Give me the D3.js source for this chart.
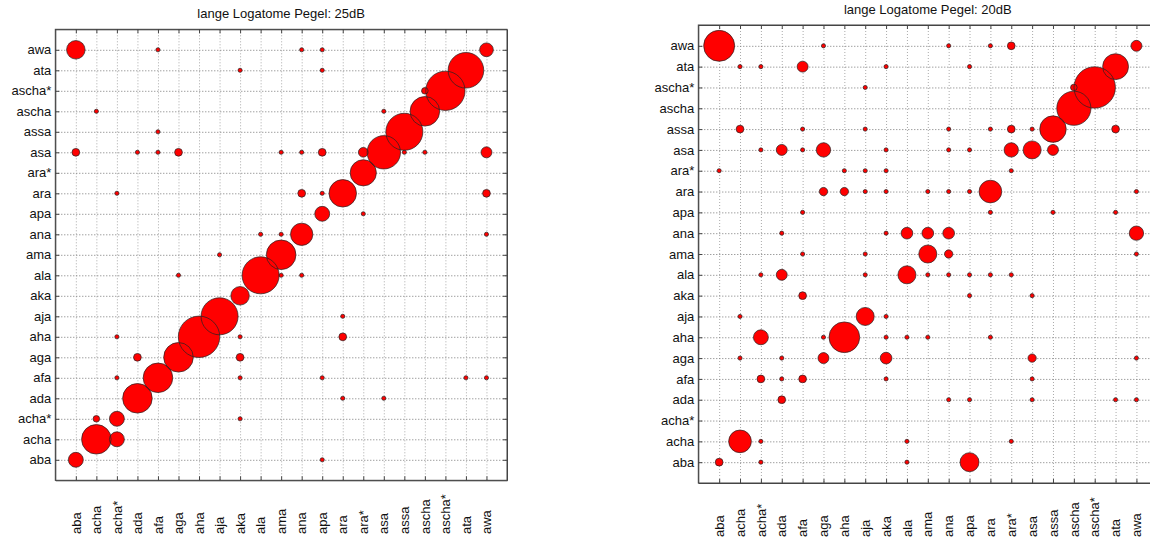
<!DOCTYPE html>
<html>
<head>
<meta charset="utf-8">
<script src="https://cdn.jsdelivr.net/npm/d3@7"></script>
<style>
  body { margin: 0; background: #fff; }
  svg text { font-family: "Liberation Sans", Arial, sans-serif; font-size: 13px; fill: #111; }
</style>
</head>
<body>
<svg id="chart" width="1150" height="539"></svg>
<script>
// categories (bottom to top on y, left to right on x)
const labels = ['aba', 'acha', 'acha*', 'ada', 'afa', 'aga', 'aha', 'aja', 'aka', 'ala',
  'ama', 'ana', 'apa', 'ara', 'ara*', 'asa', 'assa', 'ascha', 'ascha*', 'ata', 'awa'];

// [row (presented), column (answered), amount]
const cells25 = [
  ['awa', 'aba', 20], ['awa', 'afa', 1], ['awa', 'ana', 1], ['awa', 'apa', 1], ['awa', 'awa', 11],
  ['ata', 'aka', 1], ['ata', 'apa', 1], ['ata', 'ata', 74],
  ['ascha*', 'ascha', 2.5], ['ascha*', 'ascha*', 90],
  ['ascha', 'acha', 1], ['ascha', 'asa', 1], ['ascha', 'ascha', 51],
  ['assa', 'afa', 1], ['assa', 'assa', 80],
  ['asa', 'aba', 3.5], ['asa', 'ada', 1], ['asa', 'afa', 1], ['asa', 'aga', 3.5], ['asa', 'ama', 1],
  ['asa', 'ana', 1], ['asa', 'apa', 3.5], ['asa', 'ara*', 5.5], ['asa', 'asa', 65], ['asa', 'assa', 1],
  ['asa', 'ascha', 1], ['asa', 'awa', 7],
  ['ara*', 'ara*', 40],
  ['ara', 'acha*', 1], ['ara', 'ana', 3.5], ['ara', 'apa', 1], ['ara', 'ara', 44], ['ara', 'awa', 3.5],
  ['apa', 'apa', 13], ['apa', 'ara*', 1],
  ['ana', 'ala', 1], ['ana', 'ama', 1], ['ana', 'ana', 29], ['ana', 'awa', 1],
  ['ama', 'aja', 1], ['ama', 'ama', 51],
  ['ala', 'aga', 1], ['ala', 'ala', 80], ['ala', 'ama', 1], ['ala', 'ana', 1],
  ['aka', 'aka', 20],
  ['aja', 'aja', 80], ['aja', 'ara', 1],
  ['aha', 'acha*', 1], ['aha', 'aha', 100], ['aha', 'aka', 1], ['aha', 'ara', 3.5],
  ['aga', 'ada', 3.5], ['aga', 'aga', 51], ['aga', 'aka', 3.5],
  ['afa', 'acha*', 1], ['afa', 'afa', 51], ['afa', 'aka', 1], ['afa', 'apa', 1], ['afa', 'ata', 1], ['afa', 'awa', 1],
  ['ada', 'ada', 51], ['ada', 'ara', 1], ['ada', 'asa', 1],
  ['acha*', 'acha', 2.5], ['acha*', 'acha*', 13], ['acha*', 'aka', 1],
  ['acha', 'acha', 51], ['acha', 'acha*', 13],
  ['aba', 'aba', 13], ['aba', 'apa', 1]
];

const cells20 = [
  ['awa', 'aba', 56], ['awa', 'aga', 1], ['awa', 'ana', 1], ['awa', 'ara', 1], ['awa', 'ara*', 3.5], ['awa', 'awa', 7],
  ['ata', 'acha', 1], ['ata', 'acha*', 1], ['ata', 'afa', 7], ['ata', 'aka', 1], ['ata', 'apa', 1], ['ata', 'ata', 39],
  ['ascha*', 'aja', 1], ['ascha*', 'ascha', 2.5], ['ascha*', 'ascha*', 100],
  ['ascha', 'ascha', 68],
  ['assa', 'acha', 3.5], ['assa', 'afa', 1], ['assa', 'aja', 1], ['assa', 'ana', 1], ['assa', 'ara', 1],
  ['assa', 'ara*', 3.5], ['assa', 'asa', 1], ['assa', 'assa', 41], ['assa', 'ata', 3.5],
  ['asa', 'acha*', 1], ['asa', 'ada', 7], ['asa', 'afa', 1], ['asa', 'aga', 12], ['asa', 'aka', 1], ['asa', 'ana', 1],
  ['asa', 'apa', 1], ['asa', 'ara*', 12], ['asa', 'asa', 19], ['asa', 'assa', 7],
  ['ara*', 'aba', 1], ['ara*', 'aha', 1], ['ara*', 'aja', 1], ['ara*', 'aka', 1], ['ara*', 'ara*', 1],
  ['ara', 'aga', 4], ['ara', 'aha', 4], ['ara', 'aja', 1], ['ara', 'aka', 1], ['ara', 'ama', 1], ['ara', 'ana', 1],
  ['ara', 'apa', 1], ['ara', 'ara', 30], ['ara', 'awa', 1],
  ['apa', 'afa', 1], ['apa', 'ara', 1], ['apa', 'assa', 1], ['apa', 'ata', 1],
  ['ana', 'ada', 1], ['ana', 'aka', 1], ['ana', 'ala', 8], ['ana', 'ama', 8], ['ana', 'ana', 8], ['ana', 'awa', 12],
  ['ama', 'afa', 1], ['ama', 'aja', 1], ['ama', 'ama', 19], ['ama', 'ana', 4], ['ama', 'awa', 1],
  ['ala', 'acha*', 1], ['ala', 'ada', 7], ['ala', 'aja', 1], ['ala', 'ala', 19], ['ala', 'ama', 1], ['ala', 'ana', 1],
  ['ala', 'apa', 1], ['ala', 'ara', 1], ['ala', 'ara*', 1],
  ['aka', 'afa', 3.5], ['aka', 'apa', 1], ['aka', 'asa', 1],
  ['aja', 'acha', 1], ['aja', 'aja', 19], ['aja', 'aka', 1],
  ['aha', 'acha*', 13], ['aha', 'aga', 1], ['aha', 'aha', 55], ['aha', 'aka', 1], ['aha', 'ala', 1], ['aha', 'ama', 1], ['aha', 'ara', 1],
  ['aga', 'acha', 1], ['aga', 'ada', 1], ['aga', 'aga', 7], ['aga', 'aka', 8], ['aga', 'asa', 4], ['aga', 'awa', 1],
  ['afa', 'acha*', 3.5], ['afa', 'ada', 1], ['afa', 'afa', 3.5], ['afa', 'aka', 1], ['afa', 'asa', 1],
  ['ada', 'ada', 3.5], ['ada', 'ana', 1], ['ada', 'apa', 1], ['ada', 'asa', 1], ['ada', 'ata', 1], ['ada', 'awa', 1],
  ['acha', 'acha', 30], ['acha', 'acha*', 1], ['acha', 'ala', 1], ['acha', 'ara*', 1],
  ['aba', 'aba', 3.5], ['aba', 'acha*', 1], ['aba', 'ala', 1], ['aba', 'apa', 21]
];

const svg = d3.select('#chart');

// same marker scale for both panels
const rScale = d3.scaleSqrt().domain([0, 100]).range([0, 20.7]);

function drawPanel(cells, title, box) {
  const g = svg.append('g').attr('transform', `translate(${box.left},${box.top})`);
  const w = box.width;
  const h = box.height;

  const x = d3.scalePoint().domain(labels).range([0, w]).padding(1);
  const y = d3.scalePoint().domain(labels).range([h, 0]).padding(1);

  g.append('rect').attr('width', w).attr('height', h).attr('fill', '#fff');

  // dotted grid
  g.append('g')
    .attr('class', 'gridx')
    .call(d3.axisBottom(x).tickSize(h).tickFormat(''))
    .call((s) => s.select('.domain').remove())
    .selectAll('line')
    .attr('stroke', '#aaa')
    .attr('stroke-dasharray', '1,2');
  g.append('g')
    .attr('class', 'gridy')
    .call(d3.axisRight(y).tickSize(w).tickFormat(''))
    .call((s) => s.select('.domain').remove())
    .selectAll('line')
    .attr('stroke', '#777')
    .attr('stroke-dasharray', '1,2');

  // inward ticks on all sides
  const tick = 4;
  g.append('g').attr('transform', `translate(0,${h})`)
    .call(d3.axisBottom(x).tickSize(-tick).tickSizeOuter(0))
    .call((s) => s.selectAll('text').remove());
  g.append('g')
    .call(d3.axisTop(x).tickSize(-tick).tickSizeOuter(0))
    .call((s) => s.selectAll('text').remove());
  g.append('g').attr('transform', `translate(${w},0)`)
    .call(d3.axisRight(y).tickSize(-tick).tickSizeOuter(0))
    .call((s) => s.selectAll('text').remove());
  const yAx = g.append('g')
    .call(d3.axisLeft(y).tickSize(-tick).tickSizeOuter(0).tickPadding(4));
  yAx.selectAll('text')
    .attr('font-family', null).attr('font-size', null)
    .style('font-size', '13px');
  yAx.attr('font-family', null).attr('font-size', null);

  g.selectAll('.domain').attr('stroke', '#444');
  g.selectAll('.tick line').filter(function () {
    return !this.closest('.gridx') && !this.closest('.gridy');
  }).attr('stroke', '#444');

  // rotated x labels, anchored at a fixed baseline
  g.append('g')
    .selectAll('text')
    .data(labels)
    .enter()
    .append('text')
    .attr('transform', (d) => `translate(${x(d)},${box.labelY - box.top}) rotate(-90)`)
    .attr('dy', '0.36em')
    .style('text-anchor', 'start')
    .text((d) => d);

  // box
  g.append('rect').attr('width', w).attr('height', h)
    .attr('fill', 'none').attr('stroke', '#444').attr('stroke-width', 1);

  // bubbles: fills first, outlines on top (as in the original)
  const data = cells.map((c) => ({ row: c[0], col: c[1], v: c[2] }));
  g.append('g').selectAll('circle').data(data).enter().append('circle')
    .attr('cx', (d) => x(d.col))
    .attr('cy', (d) => y(d.row))
    .attr('r', (d) => rScale(d.v))
    .attr('fill', '#ff0000');
  g.append('g').selectAll('circle').data(data).enter().append('circle')
    .attr('cx', (d) => x(d.col))
    .attr('cy', (d) => y(d.row))
    .attr('r', (d) => rScale(d.v))
    .attr('fill', 'none')
    .attr('stroke', '#222')
    .attr('stroke-width', 0.7);

  svg.append('text')
    .attr('x', box.left + w / 2)
    .attr('y', box.titleY)
    .style('text-anchor', 'middle')
    .text(title);
}

drawPanel(cells25, 'lange Logatome Pegel: 25dB',
  { left: 55.3, top: 29.3, width: 451.7, height: 451, titleY: 18, labelY: 534 });
drawPanel(cells20, 'lange Logatome Pegel: 20dB',
  { left: 698.3, top: 25, width: 459, height: 458, titleY: 14, labelY: 537 });
</script>
</body>
</html>
